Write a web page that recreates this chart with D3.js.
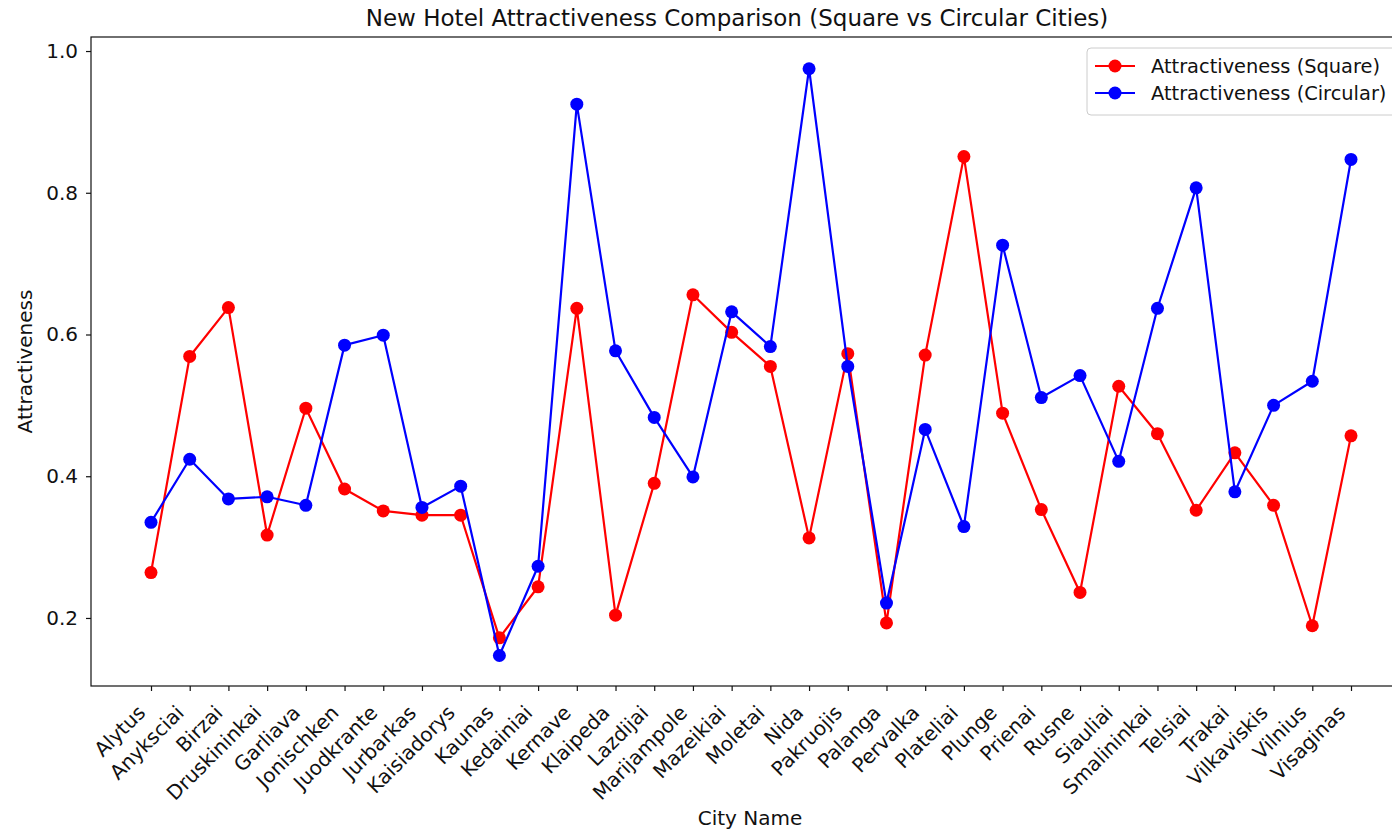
<!DOCTYPE html>
<html>
<head>
<meta charset="utf-8">
<script src="https://cdn.jsdelivr.net/npm/d3@7"></script>
<style>
  html, body { margin: 0; padding: 0; background: #fff; overflow: hidden; }
  svg { display: block; font-family: "DejaVu Sans", sans-serif; }
</style>
</head>
<body>
<svg id="chart" width="1392" height="832"></svg>
<script>
// City names along the x axis
const cities = ["Alytus", "Anyksciai", "Birzai", "Druskininkai", "Garliava", "Jonischken",
  "Juodkrante", "Jurbarkas", "Kaisiadorys", "Kaunas", "Kedainiai", "Kernave", "Klaipeda",
  "Lazdijai", "Marijampole", "Mazeikiai", "Moletai", "Nida", "Pakruojis", "Palanga",
  "Pervalka", "Plateliai", "Plunge", "Prienai", "Rusne", "Siauliai", "Smalininkai",
  "Telsiai", "Trakai", "Vilkaviskis", "Vilnius", "Visaginas"];

// Attractiveness for the square-city layout
const squareValues = [0.264, 0.569, 0.638, 0.317, 0.496, 0.382, 0.351, 0.345, 0.345, 0.172,
  0.244, 0.637, 0.204, 0.390, 0.656, 0.603, 0.555, 0.313, 0.573, 0.193, 0.571, 0.851,
  0.489, 0.353, 0.236, 0.527, 0.460, 0.352, 0.433, 0.359, 0.189, 0.457];

// Attractiveness for the circular-city layout
const circularValues = [0.335, 0.424, 0.368, 0.371, 0.359, 0.585, 0.599, 0.356, 0.386, 0.147,
  0.273, 0.925, 0.577, 0.483, 0.399, 0.632, 0.583, 0.975, 0.555, 0.221, 0.466, 0.329,
  0.726, 0.511, 0.542, 0.421, 0.637, 0.807, 0.378, 0.500, 0.534, 0.847];

const yTicks = [0.2, 0.4, 0.6, 0.8, 1.0];

const series = [
  { name: "Attractiveness (Square)", color: "#ff0000", values: squareValues },
  { name: "Attractiveness (Circular)", color: "#0000ff", values: circularValues }
];

const svg = d3.select("#chart");
const plot = { left: 91, right: 1411, top: 37, bottom: 686 };

const x = d3.scalePoint().domain(cities).range([plot.left, plot.right]).padding(1.55);
const y = d3.scaleLinear().domain([0.104, 1.0198]).range([plot.bottom, plot.top]);

const fontSize = 20;
const ink = "#111";

// Title
svg.append("text")
  .attr("x", 737)
  .attr("y", 26)
  .attr("text-anchor", "middle")
  .attr("font-size", 23)
  .attr("fill", ink)
  .text("New Hotel Attractiveness Comparison (Square vs Circular Cities)");

// Y axis
const yAxis = svg.append("g")
  .attr("transform", `translate(${plot.left},0)`)
  .call(d3.axisLeft(y).tickValues(yTicks).tickFormat(d3.format(".1f")).tickSize(5).tickPadding(8));
yAxis.select(".domain").remove();
yAxis.selectAll("text").attr("font-size", fontSize).attr("font-family", "DejaVu Sans").attr("fill", ink);
yAxis.selectAll("line").attr("stroke", ink).attr("stroke-width", 1.2);

// X axis with rotated city names
const xAxis = svg.append("g")
  .attr("transform", `translate(0,${plot.bottom})`)
  .call(d3.axisBottom(x).tickSize(5).tickPadding(0));
xAxis.select(".domain").remove();
xAxis.selectAll("line").attr("stroke", ink).attr("stroke-width", 1.2);
xAxis.selectAll("text")
  .attr("font-size", fontSize)
  .attr("font-family", "DejaVu Sans")
  .attr("fill", ink)
  .attr("text-anchor", "end")
  .attr("dy", null)
  .attr("y", null)
  .attr("transform", "translate(-5,28) rotate(-45)");

// Axes frame
svg.append("rect")
  .attr("x", plot.left).attr("y", plot.top)
  .attr("width", plot.right - plot.left).attr("height", plot.bottom - plot.top)
  .attr("fill", "none").attr("stroke", ink).attr("stroke-width", 1.2);

// Axis labels
svg.append("text")
  .attr("x", 750)
  .attr("y", 825)
  .attr("text-anchor", "middle")
  .attr("font-size", fontSize)
  .attr("fill", ink)
  .text("City Name");

svg.append("text")
  .attr("transform", `translate(32,${(plot.top + plot.bottom) / 2}) rotate(-90)`)
  .attr("text-anchor", "middle")
  .attr("font-size", fontSize)
  .attr("fill", ink)
  .text("Attractiveness");

// Lines and markers
const line = d3.line().x((d, i) => x(cities[i])).y(d => y(d));

series.forEach(s => {
  svg.append("path")
    .datum(s.values)
    .attr("d", line)
    .attr("fill", "none")
    .attr("stroke", s.color)
    .attr("stroke-width", 2.2)
    .attr("stroke-linejoin", "round");
  svg.append("g").selectAll("circle")
    .data(s.values)
    .join("circle")
    .attr("cx", (d, i) => x(cities[i]))
    .attr("cy", d => y(d))
    .attr("r", 6.5)
    .attr("fill", s.color);
});

// Legend
const legend = svg.append("g").attr("transform", "translate(1087,48)");
legend.append("rect")
  .attr("width", 340).attr("height", 67)
  .attr("rx", 4).attr("ry", 4)
  .attr("fill", "#fff").attr("fill-opacity", 0.8)
  .attr("stroke", "#ccc").attr("stroke-width", 1);
series.forEach((s, i) => {
  const ly = 18 + i * 27;
  legend.append("line")
    .attr("x1", 8).attr("x2", 48).attr("y1", ly).attr("y2", ly)
    .attr("stroke", s.color).attr("stroke-width", 2.2);
  legend.append("circle").attr("cx", 28).attr("cy", ly).attr("r", 6.5).attr("fill", s.color);
  legend.append("text")
    .attr("x", 64).attr("y", ly).attr("dy", "0.35em")
    .attr("font-size", 19.4).attr("fill", ink)
    .text(s.name);
});
</script>
</body>
</html>
